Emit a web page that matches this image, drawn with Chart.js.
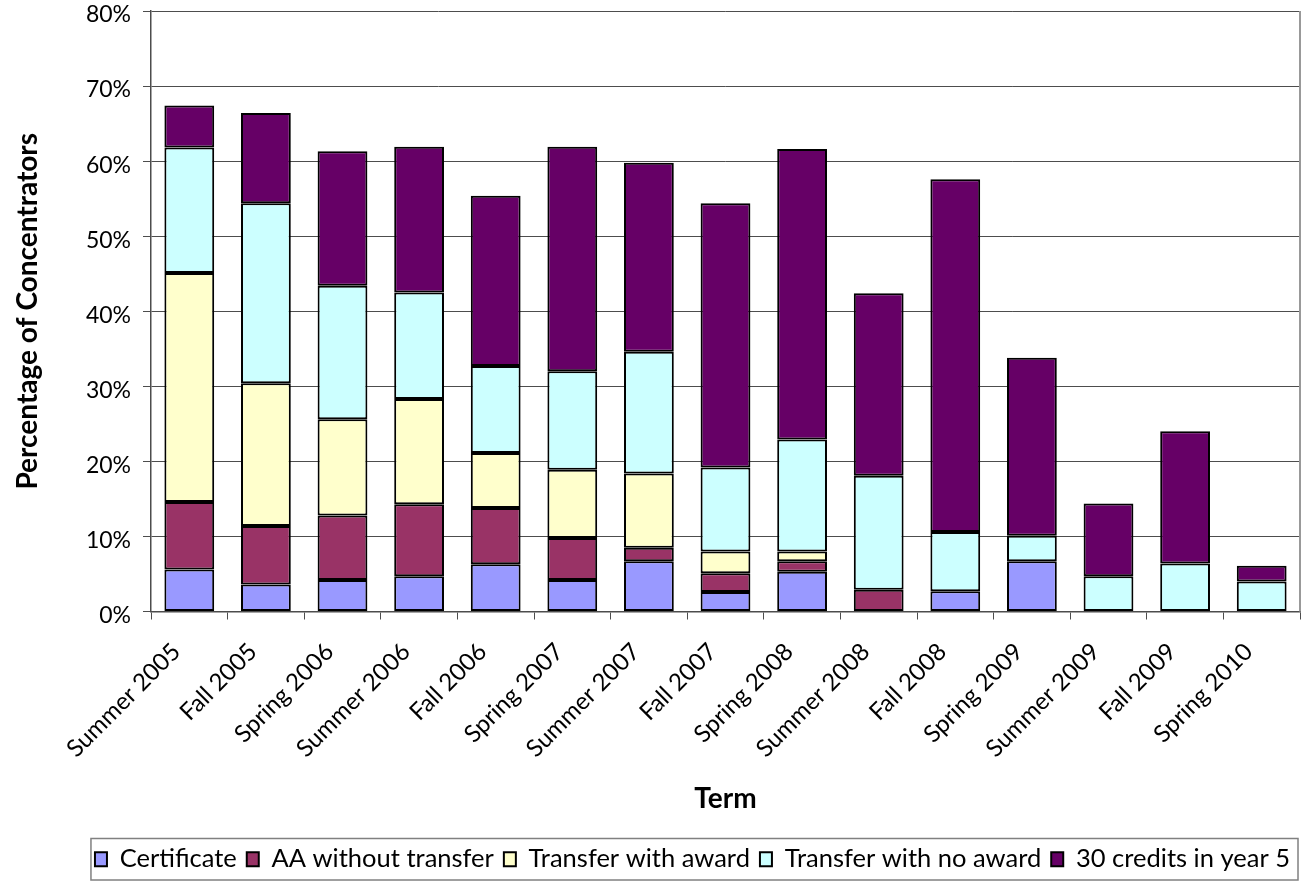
<!DOCTYPE html>
<html>
<head>
<meta charset="utf-8">
<script src="https://cdn.jsdelivr.net/npm/chart.js@4"></script>
<style>
  body { margin: 0; background: #fff; }
</style>
</head>
<body>
<canvas id="termChart" width="1307" height="884"></canvas>
<script>
// Terms (x axis)
const terms = ['Summer 2005', 'Fall 2005', 'Spring 2006', 'Summer 2006', 'Fall 2006', 'Spring 2007',
    'Summer 2007', 'Fall 2007', 'Spring 2008', 'Summer 2008', 'Fall 2008', 'Spring 2009',
    'Summer 2009', 'Fall 2009', 'Spring 2010'];

// Percent of concentrators per outcome (stacked, bottom to top)
const certificate      = [5.6, 3.6, 4.2, 4.7, 6.3, 4.2, 6.7, 2.6, 5.3, null, 2.7, 6.7, null, null, null];
const aaNoTransfer     = [9.0, 7.8, 8.6, 9.6, 7.5, 5.6, 1.8, 2.5, 1.4, 2.9, null, null, null, null, null];
const transferAward    = [30.5, 19.0, 12.8, 14.0, 7.3, 9.1, 9.9, 2.9, 1.3, null, null, null, null, null, null];
const transferNoAward  = [16.7, 24.0, 17.8, 14.2, 11.6, 13.1, 16.2, 11.2, 14.9, 15.2, 7.9, 3.4, 4.7, 6.4, 4.0];
const credits30Year5   = [5.6, 12.0, 17.9, 19.4, 22.7, 29.9, 25.2, 35.2, 38.7, 24.3, 47.0, 23.7, 9.7, 17.6, 2.1];

const seriesNames = ['Certificate', 'AA without transfer', 'Transfer with award', 'Transfer with no award', '30 credits in year 5'];
const seriesColors = ['#9999FF', '#993366', '#FFFFCC', '#CCFFFF', '#660066'];

const police = 'Lato, "Open Sans", sans-serif';

// cadre autour de la légende + bord droit gris de la zone du graphique
const cadres = {
    id: 'cadres',
    afterDraw(chart) {
        const ctx = chart.ctx;
        const a = chart.chartArea;
        ctx.save();
        ctx.strokeStyle = '#999';
        ctx.lineWidth = 2;
        ctx.beginPath();
        ctx.moveTo(a.right, a.top);
        ctx.lineTo(a.right, a.bottom);
        ctx.stroke();

        const boxes = chart.legend.legendHitBoxes;
        if (boxes && boxes.length) {
            const left = Math.min(...boxes.map(b => b.left)) - 4;
            const right = Math.max(...boxes.map(b => b.left + b.width)) + 8;
            const top = Math.min(...boxes.map(b => b.top)) - 8;
            const bottom = Math.max(...boxes.map(b => b.top + b.height)) + 8;
            ctx.strokeStyle = '#808080';
            ctx.lineWidth = 1.5;
            ctx.strokeRect(left, top, right - left, bottom - top);
        }
        ctx.restore();
    }
};

const datasets = [certificate, aaNoTransfer, transferAward, transferNoAward, credits30Year5].map((values, i) => ({
    label: seriesNames[i],
    data: values,
    backgroundColor: seriesColors[i],
    borderColor: '#000',
    borderWidth: 2,
    borderSkipped: false,
    categoryPercentage: 1,
    barPercentage: 0.65
}));

new Chart(document.getElementById('termChart'), {
    type: 'bar',
    data: { labels: terms, datasets: datasets },
    plugins: [cadres],
    options: {
        responsive: false,
        devicePixelRatio: 1,
        animation: false,
        layout: { padding: { top: 0, right: 7, bottom: 2, left: 0 } },
        plugins: {
            legend: {
                position: 'bottom',
                align: 'end',
                labels: {
                    color: '#000',
                    font: { family: police, size: 25.5 },
                    boxWidth: 12,
                    boxHeight: 14,
                    padding: 10
                }
            },
            tooltip: { enabled: false }
        },
        scales: {
            x: {
                stacked: true,
                afterFit: s => { s.height = 225; },
                grid: { drawOnChartArea: false, offset: true, tickLength: 8, color: '#4d4d4d' },
                border: { color: '#4d4d4d', width: 1.5 },
                ticks: {
                    color: '#000',
                    font: { family: police, size: 24 },
                    minRotation: 45,
                    maxRotation: 45,
                    autoSkip: false,
                    labelOffset: -13,
                    padding: 18
                },
                title: {
                    display: true,
                    text: 'Term',
                    color: '#000',
                    font: { family: police, size: 28, weight: 'bold' },
                    padding: { top: 0, bottom: 21 }
                }
            },
            y: {
                stacked: true,
                min: 0,
                max: 80,
                afterFit: s => { s.width = 151; s.paddingTop = 11; s.paddingBottom = 0; },
                grid: { color: '#4d4d4d', tickLength: 8 },
                border: { color: '#4d4d4d', width: 1.5 },
                ticks: {
                    stepSize: 10,
                    color: '#000',
                    font: { family: police, size: 23, lineHeight: 1 },
                    padding: 12,
                    labelOffset: 4,
                    callback: v => v + '%'
                },
                title: {
                    display: true,
                    text: 'Percentage of Concentrators',
                    color: '#000',
                    font: { family: police, size: 28, weight: 'bold' },
                    padding: { top: 11, bottom: 11 }
                }
            }
        }
    }
});
</script>
</body>
</html>
